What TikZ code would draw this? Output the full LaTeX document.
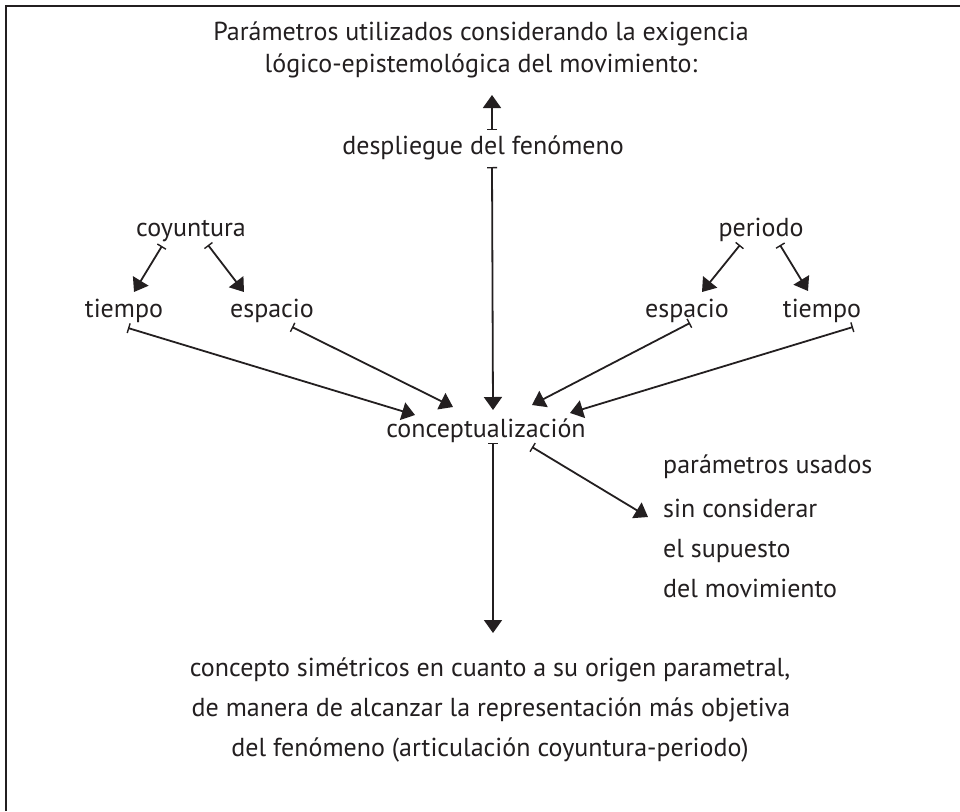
\documentclass[tikz,border=0pt]{standalone}
\usepackage{fontspec}
\setmainfont{PT Sans}
\usetikzlibrary{arrows.meta,calc}
\definecolor{ink}{HTML}{231F20}
\tikzset{
  lbl/.style={inner sep=0pt, text=ink, font=\fontsize{26}{31}\selectfont},
  conn/.style={draw=ink, line width=1.8pt, {Bar[width=10pt,line width=1.4pt]}-{Triangle[length=13pt,width=18pt]}},
}
\begin{document}
\begin{tikzpicture}[x=1pt,y=-1pt]
\useasboundingbox (0,0) rectangle (960,811);
\fill[white] (0,0) rectangle (960,811);
\draw[ink, line width=2.6pt] (6,811) -- (6,6) -- (960,6);

% title
\node[lbl, anchor=base] (t1) at (481,40) {Parámetros utilizados considerando la exigencia};
\node[lbl, anchor=base] (t2) at (481,72) {lógico-epistemológica del movimiento:};
\node[lbl, anchor=base] (desp) at (483,154) {despliegue del fenómeno};
\node[lbl, anchor=base] (coy) at (191,236) {coyuntura};
\node[lbl, anchor=base] (per) at (761,236) {periodo};
\node[lbl, anchor=base] (tL) at (124,317) {tiempo};
\node[lbl, anchor=base] (eL) at (272,317) {espacio};
\node[lbl, anchor=base] (eR) at (687,317) {espacio};
\node[lbl, anchor=base] (tR) at (822,317) {tiempo};
\node[lbl, anchor=base] (conc) at (486,437) {conceptualización};
\node[lbl, anchor=base west] (r1) at (663,473) {parámetros usados};
\node[lbl, anchor=base west] (r2) at (663,517) {sin considerar};
\node[lbl, anchor=base west] (r3) at (663,557) {el supuesto};
\node[lbl, anchor=base west] (r4) at (663,597) {del movimiento};
\node[lbl, anchor=base] (b1) at (490,676) {concepto simétricos en cuanto a su origen parametral,};
\node[lbl, anchor=base] (b2) at (491,716) {de manera de alcanzar la representación más objetiva};
\node[lbl, anchor=base] (b3) at (490,756) {del fenómeno (articulación coyuntura-periodo)};

% connectors
\draw[conn] ($(desp.base)+(9,-24)$) -- ($(t2.base)+(11,23)$);
\draw[conn] ($(desp.base)+(9,13)$) -- ($(conc.base)+(7,-27)$);
\draw[conn] ($(conc.base)+(7,6)$) -- ($(b1.base)+(3,-43)$);
\draw[conn] ($(conc.base)+(46,10)$) -- ($(r2.base west)+(-15,0)$);

\draw[conn] ($(coy.base)+(-29,10)$) -- ($(tL.base)+(10,-25)$);
\draw[conn] ($(coy.base)+(17,9)$) -- ($(eL.base)+(-28,-25)$);
\draw[conn] ($(per.base)+(-21,9)$) -- ($(eR.base)+(15,-25)$);
\draw[conn] ($(per.base)+(19,9)$) -- ($(tR.base)+(-14,-26)$);

\draw[conn] ($(tL.base)+(4,11)$) -- ($(conc.base)+(-71,-22)$);
\draw[conn] ($(eL.base)+(20,10)$) -- ($(conc.base)+(-33,-30)$);
\draw[conn] ($(eR.base)+(3,6)$) -- ($(conc.base)+(46,-32)$);
\draw[conn] ($(tR.base)+(31,10)$) -- ($(conc.base)+(84,-24)$);
\end{tikzpicture}
\end{document}
